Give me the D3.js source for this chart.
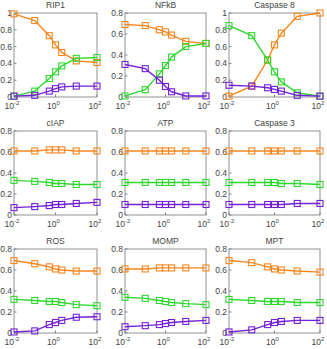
<!DOCTYPE html>
<html><head><meta charset="utf-8">
<script src="https://cdn.jsdelivr.net/npm/d3@7"></script>
<style>body{margin:0;background:#fff}svg{display:block}</style>
</head><body>
<script>
const xValues = [0.01, 0.1, 0.5, 1, 2, 10, 100];
const titles = ["RIP1", "NFkB", "Caspase 8", "cIAP", "ATP", "Caspase 3", "ROS", "MOMP", "MPT"];
const yMaxes = [1, 0.8, 1, 0.8, 0.8, 0.8, 0.8, 0.8, 0.8];
const xTicks = [0.01, 1, 100];
const xTickExps = ["-2", "0", "2"];
const seriesColors = ["#f7861c", "#2fd82f", "#7420d8"];

const orangeValues = [
  [0.99, 0.91, 0.73, 0.62, 0.53, 0.43, 0.41],
  [0.69, 0.68, 0.64, 0.62, 0.59, 0.53, 0.51],
  [0.01, 0.13, 0.44, 0.62, 0.76, 0.96, 1.0],
  [0.61, 0.61, 0.62, 0.62, 0.62, 0.61, 0.61],
  [0.61, 0.61, 0.61, 0.61, 0.61, 0.61, 0.61],
  [0.61, 0.61, 0.61, 0.61, 0.61, 0.61, 0.61],
  [0.69, 0.66, 0.63, 0.61, 0.60, 0.59, 0.59],
  [0.61, 0.61, 0.62, 0.62, 0.62, 0.62, 0.62],
  [0.69, 0.67, 0.63, 0.61, 0.60, 0.59, 0.58]
];
const greenValues = [
  [0.01, 0.07, 0.22, 0.30, 0.37, 0.46, 0.47],
  [0.01, 0.07, 0.22, 0.30, 0.38, 0.48, 0.51],
  [0.85, 0.73, 0.44, 0.30, 0.18, 0.05, 0.01],
  [0.33, 0.32, 0.31, 0.30, 0.30, 0.29, 0.29],
  [0.31, 0.31, 0.31, 0.31, 0.31, 0.31, 0.31],
  [0.31, 0.31, 0.31, 0.31, 0.30, 0.30, 0.29],
  [0.32, 0.31, 0.30, 0.30, 0.29, 0.27, 0.26],
  [0.34, 0.33, 0.31, 0.30, 0.29, 0.28, 0.27],
  [0.32, 0.31, 0.30, 0.30, 0.30, 0.29, 0.29]
];
const purpleValues = [
  [0.01, 0.02, 0.07, 0.10, 0.12, 0.13, 0.13],
  [0.31, 0.27, 0.16, 0.10, 0.05, 0.01, 0.01],
  [0.14, 0.13, 0.11, 0.09, 0.07, 0.02, 0.01],
  [0.07, 0.08, 0.09, 0.10, 0.10, 0.11, 0.12],
  [0.10, 0.10, 0.10, 0.10, 0.10, 0.10, 0.10],
  [0.10, 0.10, 0.10, 0.10, 0.10, 0.11, 0.11],
  [0.01, 0.02, 0.08, 0.10, 0.12, 0.15, 0.155],
  [0.06, 0.07, 0.08, 0.09, 0.10, 0.11, 0.12],
  [0.01, 0.03, 0.08, 0.10, 0.11, 0.12, 0.12]
];

const W = 327, H = 349;
const colLeft = [14, 125, 229];
const colRight = [97, 206, 320];
const rowTop = [13, 131, 249];
const ph = 84;
const font = "'Liberation Sans', Arial, sans-serif";
const textColor = "#444";

const svg = d3.select("body").append("svg").attr("width", W).attr("height", H);

titles.forEach((title, i) => {
  const col = i % 3, row = Math.floor(i / 3);
  const pw = colRight[col] - colLeft[col];
  const g = svg.append("g").attr("transform", `translate(${colLeft[col]},${rowTop[row]})`);
  const x = d3.scaleLog().domain([0.01, 100]).range([0, pw]);
  const yMax = yMaxes[i];
  const y = d3.scaleLinear().domain([0, yMax]).range([ph, 0]);
  const yTicks = d3.range(0, yMax + 1e-9, 0.2);

  g.selectAll(".yt").data(yTicks).enter().append("line")
    .attr("x1", 0).attr("x2", 2.5).attr("y1", d => y(d)).attr("y2", d => y(d))
    .attr("stroke", "#666").attr("stroke-width", 0.8);
  g.selectAll(".yl").data(yTicks).enter().append("text")
    .attr("x", -2).attr("y", d => y(d) + 3)
    .attr("text-anchor", "end").attr("font-family", font).attr("font-size", 8.5)
    .attr("fill", textColor)
    .text(d => d === 0 ? "0" : (Math.abs(d - 1) < 1e-9 ? "1" : d3.format(".1f")(d)));

  g.selectAll(".xt").data(xTicks).enter().append("line")
    .attr("x1", d => x(d)).attr("x2", d => x(d)).attr("y1", ph).attr("y2", ph - 2.5)
    .attr("stroke", "#666").attr("stroke-width", 0.8);
  xTicks.forEach((t, k) => {
    const tx = g.append("text").attr("x", x(t) - 2).attr("y", ph + 12)
      .attr("text-anchor", "middle").attr("font-family", font).attr("font-size", 8.5)
      .attr("fill", textColor);
    tx.append("tspan").text("10");
    tx.append("tspan").attr("dy", -4).attr("font-size", 6).text(xTickExps[k]);
  });

  g.append("rect").attr("x", 0).attr("y", 0).attr("width", pw).attr("height", ph)
    .attr("fill", "none").attr("stroke", "#777").attr("stroke-width", 0.8);

  g.append("text").attr("x", pw / 2).attr("y", -5).attr("text-anchor", "middle")
    .attr("font-family", font).attr("font-size", 8.5).attr("fill", textColor).text(title);

  const line = d3.line().x((d, k) => x(xValues[k])).y(d => y(d));
  [orangeValues[i], greenValues[i], purpleValues[i]].forEach((vals, s) => {
    g.append("path").attr("d", line(vals)).attr("fill", "none")
      .attr("stroke", seriesColors[s]).attr("stroke-width", 1.4);
    g.selectAll(null).data(vals).enter().append("rect")
      .attr("x", (d, k) => x(xValues[k]) - 3).attr("y", d => y(d) - 3)
      .attr("width", 6).attr("height", 6)
      .attr("fill", "none").attr("stroke", seriesColors[s]).attr("stroke-width", 1.1);
  });
});
</script>
</body></html>
